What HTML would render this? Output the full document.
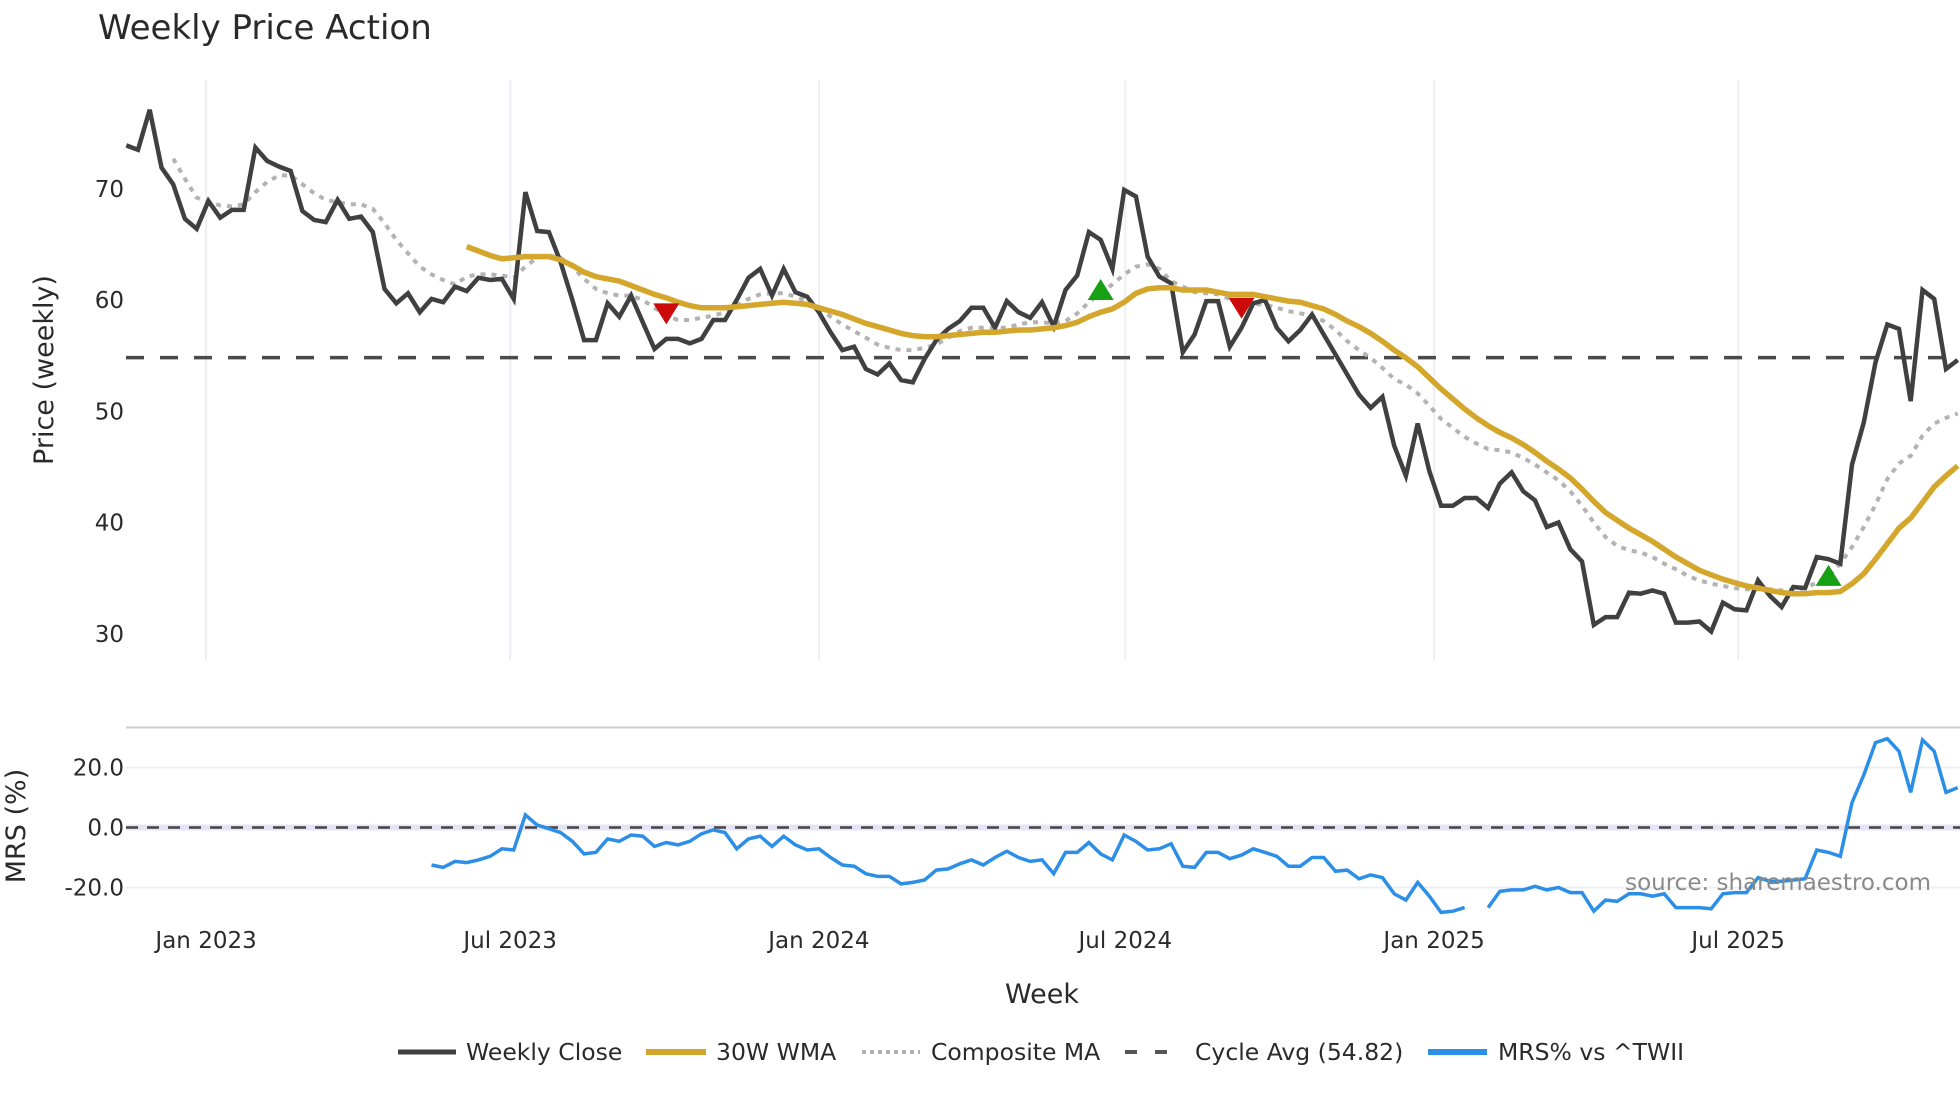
<!DOCTYPE html>
<html><head><meta charset="utf-8"><style>
html,body{margin:0;padding:0;background:#fff;}
svg{display:block;font-family:"DejaVu Sans","Liberation Sans",sans-serif;}
</style></head><body>
<svg id="chart" width="1960" height="1102" viewBox="0 0 1960 1102" xmlns="http://www.w3.org/2000/svg">
<rect width="1960" height="1102" fill="#fff"/>
<text x="98" y="39" font-size="34" fill="#2a2a2a">Weekly Price Action</text>
<g id="grid"></g>
<g id="marks"></g>
<text transform="translate(53,370) rotate(-90)" text-anchor="middle" font-size="27" fill="#2a2a2a">Price (weekly)</text>
<text transform="translate(25,826) rotate(-90)" text-anchor="middle" font-size="27" fill="#2a2a2a">MRS (%)</text>
<text x="1042" y="1003" text-anchor="middle" font-size="27" fill="#2a2a2a">Week</text>
<text x="1931" y="890" text-anchor="end" font-size="23" fill="#8a8a8a">source: sharemaestro.com</text>
<g font-size="23.5" fill="#2a2a2a">
  <g><line x1="398" y1="1052" x2="456" y2="1052" stroke="#404040" stroke-width="5"/><text x="466" y="1060">Weekly Close</text></g>
  <g><line x1="646" y1="1052" x2="706" y2="1052" stroke="#d4a72c" stroke-width="6"/><text x="716" y="1060">30W WMA</text></g>
  <g><line x1="862" y1="1052" x2="920" y2="1052" stroke="#b0b0b0" stroke-width="4" stroke-dasharray="4,4"/><text x="931" y="1060">Composite MA</text></g>
  <g><line x1="1125" y1="1052" x2="1182" y2="1052" stroke="#555" stroke-width="4" stroke-dasharray="12,18"/><text x="1195" y="1060">Cycle Avg (54.82)</text></g>
  <g><line x1="1428" y1="1052" x2="1487" y2="1052" stroke="#2b8fe8" stroke-width="6"/><text x="1498" y="1060">MRS% vs ^TWII</text></g>
</g>
</svg>
<script>
const closeVals=[73.9,73.5,77.1,71.9,70.4,67.3,66.4,68.9,67.4,68.1,68.1,73.7,72.5,72.0,71.6,68.0,67.2,67.0,69.0,67.3,67.5,66.1,61.0,59.7,60.6,58.9,60.1,59.8,61.2,60.8,62.0,61.8,61.9,60.1,69.7,66.2,66.1,63.4,60.0,56.4,56.4,59.7,58.5,60.4,58.0,55.6,56.5,56.5,56.1,56.5,58.2,58.2,60.0,62.0,62.8,60.4,62.8,60.7,60.3,58.9,57.1,55.5,55.8,53.8,53.3,54.3,52.8,52.6,54.7,56.4,57.4,58.1,59.3,59.3,57.5,59.9,58.9,58.4,59.8,57.6,60.9,62.2,66.1,65.4,62.8,69.9,69.3,63.9,62.1,61.5,55.3,56.9,59.9,59.9,55.8,57.5,59.7,60.0,57.5,56.3,57.3,58.7,56.9,55.1,53.3,51.5,50.3,51.3,46.9,44.2,48.9,44.6,41.5,41.5,42.2,42.2,41.3,43.5,44.5,42.8,42.0,39.6,40.0,37.6,36.5,30.8,31.5,31.5,33.7,33.6,33.9,33.6,31.0,31.0,31.1,30.2,32.8,32.2,32.1,34.8,33.4,32.4,34.2,34.1,36.9,36.7,36.3,45.2,49.0,54.4,57.8,57.4,50.9,60.9,60.1,53.8,54.6];
const wmaStart=29;
const wmaVals=[64.8,64.4,64.0,63.7,63.8,63.9,63.9,63.9,63.6,63.1,62.5,62.1,61.9,61.7,61.3,60.9,60.5,60.2,59.8,59.5,59.3,59.3,59.3,59.4,59.5,59.6,59.7,59.8,59.7,59.6,59.3,59.0,58.7,58.3,57.9,57.6,57.3,57.0,56.8,56.7,56.7,56.8,56.9,57.0,57.1,57.1,57.2,57.3,57.3,57.4,57.5,57.7,58.0,58.5,58.9,59.2,59.8,60.6,61.0,61.1,61.1,60.9,60.9,60.9,60.7,60.5,60.5,60.5,60.3,60.1,59.9,59.8,59.5,59.2,58.7,58.1,57.6,57.0,56.3,55.5,54.8,54.0,53.0,52.0,51.1,50.2,49.4,48.7,48.1,47.6,47.0,46.3,45.5,44.8,44.0,43.0,41.9,40.9,40.2,39.5,38.9,38.3,37.6,36.9,36.3,35.7,35.3,34.9,34.6,34.3,34.1,33.9,33.7,33.6,33.6,33.7,33.7,33.8,34.5,35.4,36.7,38.1,39.5,40.4,41.8,43.2,44.2,45.1];
const compStart=4;
const compVals=[72.7,70.9,69.2,68.8,68.5,68.4,68.6,69.7,70.6,71.2,71.2,70.4,69.6,69.0,68.8,68.6,68.6,68.2,66.9,65.4,64.2,63.0,62.3,61.8,61.4,62.1,62.3,62.3,62.2,62.0,63.0,63.8,64.0,63.8,63.0,61.9,61.0,60.6,60.4,60.4,60.0,59.3,58.6,58.2,58.2,58.4,58.6,58.9,59.5,60.1,60.5,60.6,60.6,60.3,59.9,59.3,58.5,57.8,57.2,56.6,56.0,55.7,55.5,55.5,55.7,56.0,56.6,57.2,57.5,57.5,57.5,57.5,57.8,58.0,58.0,57.9,58.1,58.8,59.8,60.6,61.4,62.3,63.0,63.2,62.8,61.7,61.2,60.7,60.6,60.5,60.1,59.7,59.6,59.6,59.3,59.0,58.8,58.6,58.1,57.3,56.3,55.5,54.8,53.9,52.9,52.4,51.6,50.5,49.3,48.5,47.7,47.1,46.6,46.5,46.3,45.8,45.2,44.5,43.8,42.8,41.5,40.0,38.7,37.9,37.5,37.3,36.9,36.3,35.8,35.2,34.8,34.5,34.3,34.1,34.0,34.0,34.0,33.9,33.9,34.1,34.6,35.2,36.3,37.8,39.6,41.6,43.9,45.3,46.0,47.8,48.9,49.4,49.8];
const mrsStart=26;
const mrsVals=[-12.5,-13.3,-11.3,-11.7,-10.8,-9.6,-7.1,-7.5,4.2,0.8,-0.4,-1.7,-4.6,-8.8,-8.3,-3.8,-4.6,-2.5,-2.9,-6.3,-5.0,-5.8,-4.6,-2.1,-0.8,-1.7,-7.1,-3.8,-2.9,-6.3,-2.9,-5.8,-7.5,-7.1,-10.0,-12.5,-12.9,-15.4,-16.3,-16.3,-18.8,-18.3,-17.5,-14.2,-13.8,-12.1,-10.8,-12.5,-10.0,-7.9,-10.0,-11.3,-10.8,-15.4,-8.3,-8.3,-5.0,-8.8,-10.8,-2.5,-4.6,-7.5,-7.1,-5.4,-12.9,-13.3,-8.3,-8.3,-10.4,-9.2,-7.1,-8.3,-9.6,-12.9,-12.9,-10.0,-10.0,-14.6,-14.2,-17.1,-15.8,-16.7,-22.1,-24.2,-18.3,-22.9,-28.3,-27.9,-26.7,null,-26.7,-21.3,-20.8,-20.8,-19.6,-20.8,-20.0,-21.7,-21.7,-27.9,-24.2,-24.6,-22.1,-22.1,-22.9,-22.1,-26.7,-26.7,-26.7,-27.1,-22.1,-21.7,-21.7,-16.7,-17.9,-17.9,-17.5,-17.1,-7.5,-8.3,-9.6,8.3,17.5,28.3,29.6,25.4,11.7,29.2,25.4,11.7,13.3];
const cycleAvg=54.82;
const priceTicks=[30,40,50,60,70];
const mrsTicks=[20,0,-20];
const mrsTickLabels=["20.0","0.0","-20.0"];
const dateTicks=[6.8,32.7,59.0,85.1,111.4,137.3];
const dateLabels=["Jan 2023","Jul 2023","Jan 2024","Jul 2024","Jan 2025","Jul 2025"];
const sellSignals=[[46,58.8],[95,59.3]];
const buySignals=[[83,60.9],[145,35.2]];

const NS="http://www.w3.org/2000/svg";
const xS=i=>126.25+i*11.74;
const yP=v=>188.75+(70-v)*11.125;
const yM=v=>827.5-v*3;
const grid=document.getElementById('grid'), marks=document.getElementById('marks');
function mk(tag,attrs,parent){const e=document.createElementNS(NS,tag);for(const k in attrs)e.setAttribute(k,attrs[k]);parent.appendChild(e);return e;}

dateTicks.forEach((d,k)=>{
  const g=mk('line',{x1:xS(d),x2:xS(d),y1:80,y2:660,stroke:'#eceff3','stroke-width':2},grid);
  
  
  const t=mk('text',{x:xS(d),y:948,'text-anchor':'middle','font-size':23,fill:'#2a2a2a'},grid);
  t.textContent=dateLabels[k];
  
  
});
priceTicks.forEach(v=>{
  const t=mk('text',{x:124,y:yP(v)+8,'text-anchor':'end','font-size':23,fill:'#2a2a2a'},grid);
  t.textContent=v;
  
  
});
const border=mk('line',{x1:126,x2:1960,y1:727.5,y2:727.5,stroke:'#cfcfcf','stroke-width':2},grid);


mrsTicks.forEach((v,k)=>{
  if(v!==0){const l=mk('line',{x1:126,x2:1960,y1:yM(v),y2:yM(v),stroke:'#eceff3','stroke-width':2},grid);
  
  }
  const t=mk('text',{x:124,y:yM(v)+8,'text-anchor':'end','font-size':23,fill:'#2a2a2a'},grid);
  t.textContent=mrsTickLabels[k];
  
  
});
const zb=mk('line',{x1:126,x2:1960,y1:yM(0),y2:yM(0),stroke:'#e6e4f4','stroke-width':6},grid);


const zl=mk('line',{x1:126,x2:1960,y1:yM(0),y2:yM(0),stroke:'#444','stroke-width':2.5,'stroke-dasharray':'12,9'},grid);



function pathOf(vals,start,yf){let d='',pen=false;vals.forEach((v,k)=>{if(v===null){pen=false;return;}d+=(pen?'L':'M')+xS(start+k).toFixed(1)+','+yf(v).toFixed(1);pen=true;});return d;}

const cyc=mk('line',{x1:126,x2:1960,y1:yP(cycleAvg),y2:yP(cycleAvg),stroke:'#4a4a4a','stroke-width':3.5,'stroke-dasharray':'18,16'},marks);


const comp=mk('path',{d:pathOf(compVals,compStart,yP),fill:'none',stroke:'#b3b3b3','stroke-width':4,'stroke-dasharray':'5,6'},marks);


const cl=mk('path',{d:pathOf(closeVals,0,yP),fill:'none',stroke:'#404040','stroke-width':4.5,'stroke-linejoin':'miter'},marks);


const wma=mk('path',{d:pathOf(wmaVals,wmaStart,yP),fill:'none',stroke:'#d4a72c','stroke-width':5.5},marks);


const mrs=mk('path',{d:pathOf(mrsVals,mrsStart,yM),fill:'none',stroke:'#2b8fe8','stroke-width':3.5},marks);



sellSignals.forEach(s=>{const x=xS(s[0]),y=yP(s[1]);
  const p=mk('polygon',{points:`${x-13},${y-10} ${x+13},${y-10} ${x},${y+11}`,fill:'#cc0a0a'},marks);
  
  });
buySignals.forEach(s=>{const x=xS(s[0]),y=yP(s[1]);
  const p=mk('polygon',{points:`${x-13},${y+10} ${x+13},${y+10} ${x},${y-11}`,fill:'#15a015'},marks);
  
  });
</script>
</body></html>
